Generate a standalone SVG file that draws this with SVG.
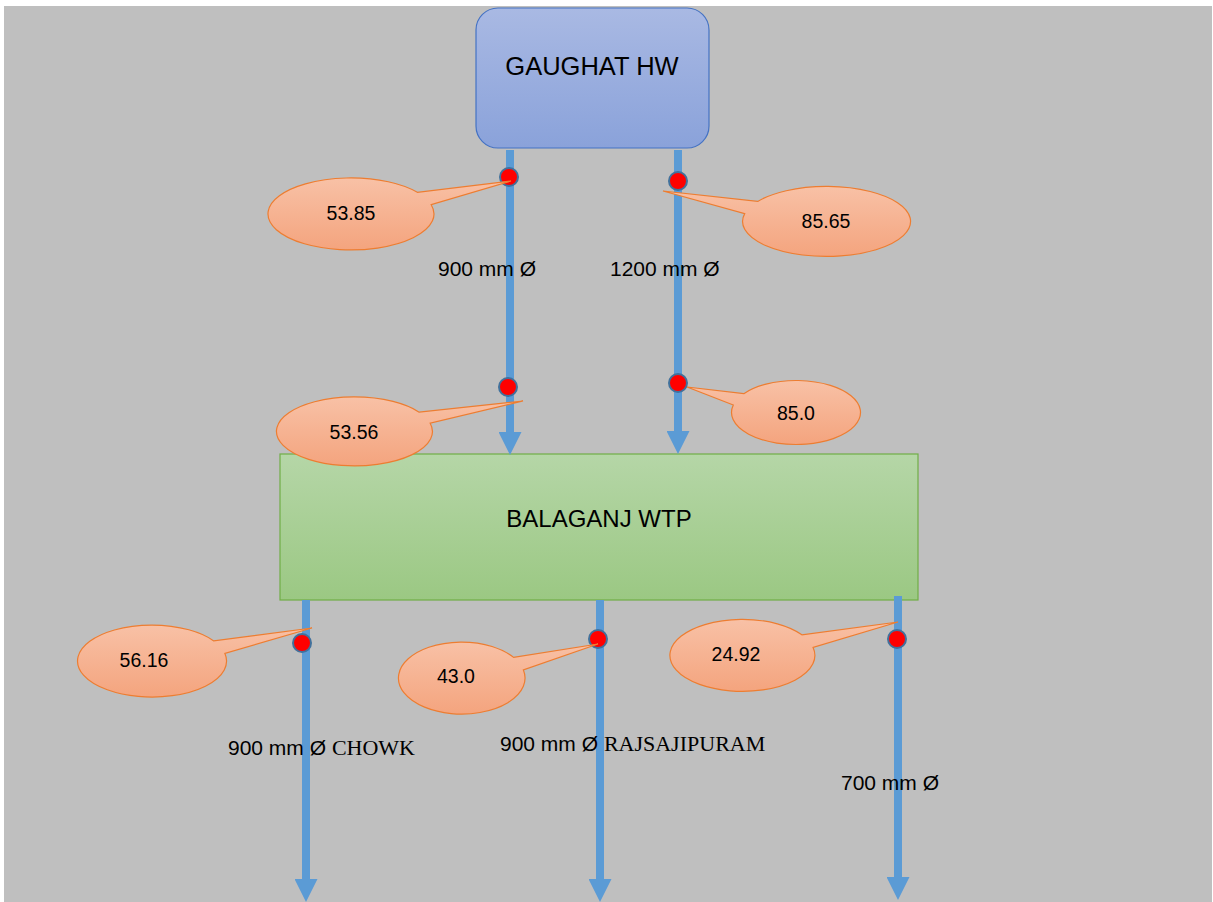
<svg xmlns="http://www.w3.org/2000/svg" width="1213" height="902" viewBox="0 0 1213 902">
<defs>
<linearGradient id="gBlue" x1="0" y1="0" x2="0" y2="1"><stop offset="0" stop-color="#A9B9E3"/><stop offset="1" stop-color="#8AA2DA"/></linearGradient>
<linearGradient id="gGreen" x1="0" y1="0" x2="0" y2="1"><stop offset="0" stop-color="#B5D6A7"/><stop offset="1" stop-color="#9BC883"/></linearGradient>
<linearGradient id="gOrange" x1="0" y1="0" x2="0" y2="1"><stop offset="0" stop-color="#F8C1A6"/><stop offset="1" stop-color="#F4A47E"/></linearGradient>
<marker id="arr" markerUnits="userSpaceOnUse" markerWidth="23" markerHeight="23" viewBox="0 0 23 23" refX="0" refY="11.5" orient="auto"><path d="M0,0 L23,11.5 L0,23 Z" fill="#5B9BD5"/></marker>
</defs>
<style>
.pipe{stroke:#5B9BD5;stroke-width:8;fill:none;marker-end:url(#arr)}
.dot{fill:#FF0000;stroke:#41719C;stroke-width:2}
.call{fill:url(#gOrange);stroke:#ED7D31;stroke-width:1.2}
.ct{font-family:"Liberation Sans",Arial,sans-serif;font-size:19.5px;fill:#000;text-anchor:middle}
.lbl{font-family:"Liberation Sans",Arial,sans-serif;font-size:21px;fill:#000}
.ser{font-family:"Liberation Serif","Times New Roman",serif;font-size:22px}
.big{font-family:"Liberation Sans",Arial,sans-serif;font-size:24px;fill:#000;text-anchor:middle}
</style>
<rect x="4" y="6" width="1208" height="896" fill="#BFBFBF"/>

<g id="gaughat">
<rect x="476" y="8" width="233" height="140" rx="22" fill="url(#gBlue)" stroke="#4472C4" stroke-width="1.2"/>
<text class="big" x="592" y="75" style="font-size:25.5px">GAUGHAT HW</text>
</g>
<g id="balaganj">
<rect x="280" y="454" width="638" height="146" fill="url(#gGreen)" stroke="#70AD47" stroke-width="1.2"/>
<text class="big" x="599" y="527">BALAGANJ WTP</text>
</g>

<g id="connectors">
<path class="pipe" d="M510,150 V432"/>
<path class="pipe" d="M678,150 V431"/>
<path class="pipe" d="M306,600 V879"/>
<path class="pipe" d="M600,600 V879"/>
<path class="pipe" d="M898,596 V877"/>
</g>

<g id="labels">
<text class="lbl" x="438" y="276">900 mm Ø</text>
<text class="lbl" x="610" y="276">1200 mm Ø</text>
<text class="lbl" x="228" y="755">900 mm Ø <tspan class="ser">CHOWK</tspan></text>
<text class="lbl" x="500" y="751">900 mm Ø <tspan class="ser">RAJSAJIPURAM</tspan></text>
<text class="lbl" x="841" y="790">700 mm Ø</text>
</g>

<g id="points">
<circle class="dot" cx="509" cy="177" r="9"/>
<circle class="dot" cx="678" cy="181" r="9"/>
<circle class="dot" cx="508" cy="387" r="9"/>
<circle class="dot" cx="678" cy="383" r="9"/>
<circle class="dot" cx="302" cy="643" r="9"/>
<circle class="dot" cx="598" cy="639" r="9"/>
<circle class="dot" cx="897" cy="639" r="9"/>
</g>

<g id="callout-5385">
<path class="call" d="M417.3,192.3 A83,36 0 1 0 431.2,204.7 L511,181 Z"/>
<text class="ct" x="351" y="220">53.85</text>
</g>
<g id="callout-8565">
<path class="call" d="M744.7,213.6 A84,35 0 1 0 757.7,201.4 L663,191 Z"/>
<text class="ct" x="826" y="228">85.65</text>
</g>
<g id="callout-5356">
<path class="call" d="M419.2,412.2 A78,34.5 0 1 0 430.2,423.2 L523,401 Z"/>
<text class="ct" x="354" y="439">53.56</text>
</g>
<g id="callout-850">
<path class="call" d="M733.3,405 A64.5,32 0 1 0 743.8,393.7 L687,387 Z"/>
<text class="ct" x="796" y="420">85.0</text>
</g>
<g id="callout-5616">
<path class="call" d="M213.8,640.9 A74.5,36 0 1 0 224.9,653.5 L312,628 Z"/>
<text class="ct" x="144" y="667">56.16</text>
</g>
<g id="callout-430">
<path class="call" d="M513.6,657.4 A63.3,36 0 1 0 523.4,669.9 L598,644 Z"/>
<text class="ct" x="456" y="683">43.0</text>
</g>
<g id="callout-2492">
<path class="call" d="M801.9,634.8 A72.5,36 0 1 0 813.1,647.4 L898,622 Z"/>
<text class="ct" x="736" y="661">24.92</text>
</g>
</svg>
